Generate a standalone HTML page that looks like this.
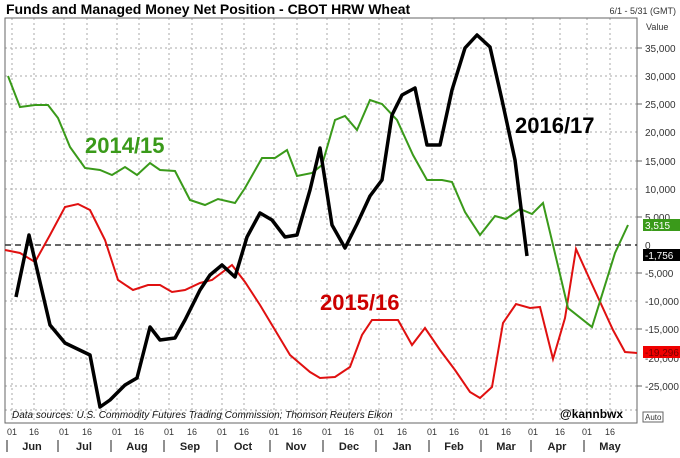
<!DOCTYPE html><html><head><style>body{margin:0;background:#fff}svg{font-family:"Liberation Sans",sans-serif}</style></head><body>
<svg width="680" height="453" viewBox="0 0 680 453">
<rect width="680" height="453" fill="#fff"/>
<text x="6" y="14" font-size="14" font-weight="bold">Funds and Managed Money Net Position - CBOT HRW Wheat</text>
<text x="676" y="14" font-size="9" text-anchor="end" fill="#333">6/1 - 5/31 (GMT)</text>
<text x="646" y="30" font-size="9" fill="#333">Value</text>
<g stroke="#aaa" stroke-dasharray="2,3" stroke-width="1">
<line x1="5" x2="637" y1="48" y2="48"/><line x1="5" x2="637" y1="76" y2="76"/><line x1="5" x2="637" y1="104" y2="104"/><line x1="5" x2="637" y1="132" y2="132"/><line x1="5" x2="637" y1="161" y2="161"/><line x1="5" x2="637" y1="189" y2="189"/><line x1="5" x2="637" y1="217" y2="217"/><line x1="5" x2="637" y1="273" y2="273"/><line x1="5" x2="637" y1="301" y2="301"/><line x1="5" x2="637" y1="329" y2="329"/><line x1="5" x2="637" y1="358" y2="358"/><line x1="5" x2="637" y1="386" y2="386"/><line x1="5" x2="637" y1="410" y2="410"/>
</g>
<g stroke="#aaa" stroke-dasharray="2,3">
<line x1="12" x2="12" y1="18" y2="423"/><line x1="34" x2="34" y1="18" y2="423"/><line x1="64" x2="64" y1="18" y2="423"/><line x1="87" x2="87" y1="18" y2="423"/><line x1="117" x2="117" y1="18" y2="423"/><line x1="139" x2="139" y1="18" y2="423"/><line x1="169" x2="169" y1="18" y2="423"/><line x1="192" x2="192" y1="18" y2="423"/><line x1="222" x2="222" y1="18" y2="423"/><line x1="244" x2="244" y1="18" y2="423"/><line x1="274" x2="274" y1="18" y2="423"/><line x1="297" x2="297" y1="18" y2="423"/><line x1="327" x2="327" y1="18" y2="423"/><line x1="349" x2="349" y1="18" y2="423"/><line x1="379" x2="379" y1="18" y2="423"/><line x1="402" x2="402" y1="18" y2="423"/><line x1="432" x2="432" y1="18" y2="423"/><line x1="454" x2="454" y1="18" y2="423"/><line x1="484" x2="484" y1="18" y2="423"/><line x1="506" x2="506" y1="18" y2="423"/><line x1="533" x2="533" y1="18" y2="423"/><line x1="560" x2="560" y1="18" y2="423"/><line x1="587" x2="587" y1="18" y2="423"/><line x1="610" x2="610" y1="18" y2="423"/>
</g>
<rect x="5" y="18" width="632" height="405" fill="none" stroke="#666"/>
<line x1="5" x2="637" y1="245" y2="245" stroke="#333" stroke-width="1.5" stroke-dasharray="6,4"/>
<g font-size="10" fill="#333">
<text x="645" y="52">35,000</text><text x="645" y="80">30,000</text><text x="645" y="108">25,000</text><text x="645" y="136">20,000</text><text x="645" y="165">15,000</text><text x="645" y="193">10,000</text><text x="645" y="221">5,000</text><text x="645" y="249">0</text><text x="645" y="277">-5,000</text><text x="645" y="305">-10,000</text><text x="645" y="333">-15,000</text><text x="645" y="362">-20,000</text><text x="645" y="390">-25,000</text>
</g>
<g stroke="#666"><line x1="637" x2="642" y1="48" y2="48"/><line x1="637" x2="642" y1="104" y2="104"/><line x1="637" x2="642" y1="161" y2="161"/><line x1="637" x2="642" y1="217" y2="217"/><line x1="637" x2="642" y1="273" y2="273"/><line x1="637" x2="642" y1="329" y2="329"/><line x1="637" x2="642" y1="386" y2="386"/></g>
<polyline fill="none" stroke="#e01010" stroke-width="2" points="5,250 20,253 35,262 50,235 65,207 78,204 90,210 105,240 118,280 133,290 148,285 160,285 172,292 185,290 200,283 212,280 232,265 245,282 260,305 275,330 290,355 310,372 320,378 335,377 350,367 362,335 372,320 385,320 398,320 412,345 425,328 440,350 455,370 470,392 480,398 492,387 503,323 516,304 530,308 540,307 553,359 565,318 576,249 590,280 613,330 625,352 637,353"/>
<polyline fill="none" stroke="#3a9a1a" stroke-width="2" points="8,76 20,107 35,105 48,105 58,118 70,147 85,168 100,170 112,175 125,167 137,175 150,163 160,170 175,171 190,200 205,205 218,199 235,203 245,188 262,158 275,158 287,150 297,176 312,173 322,165 335,120 345,116 357,130 370,100 382,104 397,120 413,155 427,180 442,180 452,182 465,212 480,235 495,216 506,219 520,209 532,214 543,203 568,308 592,327 615,253 628,225"/>
<polyline fill="none" stroke="#000" stroke-width="3.5" stroke-linejoin="round" points="16,297 29,235 50,325 65,343 90,355 100,407 110,400 125,385 137,378 150,327 160,340 175,338 185,320 200,290 210,275 222,265 235,277 247,237 260,213 272,220 285,237 297,235 310,190 320,148 332,225 345,248 357,224 370,196 382,180 392,115 402,95 415,88 427,145 440,145 452,90 465,48 477,35 490,47 502,100 515,160 527,256"/>
<text x="85" y="153" font-size="22" font-weight="bold" fill="#3a9a1a">2014/15</text>
<text x="320" y="310" font-size="22" font-weight="bold" fill="#c00">2015/16</text>
<text x="515" y="133" font-size="22" font-weight="bold" fill="#000">2016/17</text>
<text x="12" y="418" font-size="10" font-style="italic" fill="#111">Data sources: U.S. Commodity Futures Trading Commission; Thomson Reuters Eikon</text>
<text x="560" y="418" font-size="12" font-weight="bold">@kannbwx</text>
<rect x="643" y="219" width="37" height="12" fill="#3a9a1a"/><text x="645" y="229" font-size="10" fill="#fff">3,515</text>
<rect x="643" y="249" width="37" height="12" fill="#000"/><text x="645" y="259" font-size="10" fill="#fff">-1,756</text>
<rect x="643" y="346" width="37" height="12" fill="#f00000"/><text x="645" y="356" font-size="10" fill="#700">-19,296</text>
<rect x="643" y="412" width="20" height="10" fill="#fff" stroke="#666"/><text x="645" y="420" font-size="8" fill="#333">Auto</text>
<g font-size="9" fill="#333" text-anchor="middle">
<text x="12" y="435">01</text><text x="34" y="435">16</text><text x="64" y="435">01</text><text x="87" y="435">16</text><text x="117" y="435">01</text><text x="139" y="435">16</text><text x="169" y="435">01</text><text x="192" y="435">16</text><text x="222" y="435">01</text><text x="244" y="435">16</text><text x="274" y="435">01</text><text x="297" y="435">16</text><text x="327" y="435">01</text><text x="349" y="435">16</text><text x="379" y="435">01</text><text x="402" y="435">16</text><text x="432" y="435">01</text><text x="454" y="435">16</text><text x="484" y="435">01</text><text x="506" y="435">16</text><text x="533" y="435">01</text><text x="560" y="435">16</text><text x="587" y="435">01</text><text x="610" y="435">16</text>
</g>
<g font-size="11" font-weight="bold" fill="#222" text-anchor="middle">
<text x="32" y="450">Jun</text><text x="84" y="450">Jul</text><text x="137" y="450">Aug</text><text x="190" y="450">Sep</text><text x="243" y="450">Oct</text><text x="296" y="450">Nov</text><text x="349" y="450">Dec</text><text x="402" y="450">Jan</text><text x="454" y="450">Feb</text><text x="506" y="450">Mar</text><text x="557" y="450">Apr</text><text x="610" y="450">May</text>
</g>
<g stroke="#222"><line x1="7" x2="7" y1="440" y2="452"/><line x1="58" x2="58" y1="440" y2="452"/><line x1="111" x2="111" y1="440" y2="452"/><line x1="164" x2="164" y1="440" y2="452"/><line x1="217" x2="217" y1="440" y2="452"/><line x1="270" x2="270" y1="440" y2="452"/><line x1="323" x2="323" y1="440" y2="452"/><line x1="376" x2="376" y1="440" y2="452"/><line x1="429" x2="429" y1="440" y2="452"/><line x1="481" x2="481" y1="440" y2="452"/><line x1="531" x2="531" y1="440" y2="452"/><line x1="584" x2="584" y1="440" y2="452"/></g>
</svg></body></html>
